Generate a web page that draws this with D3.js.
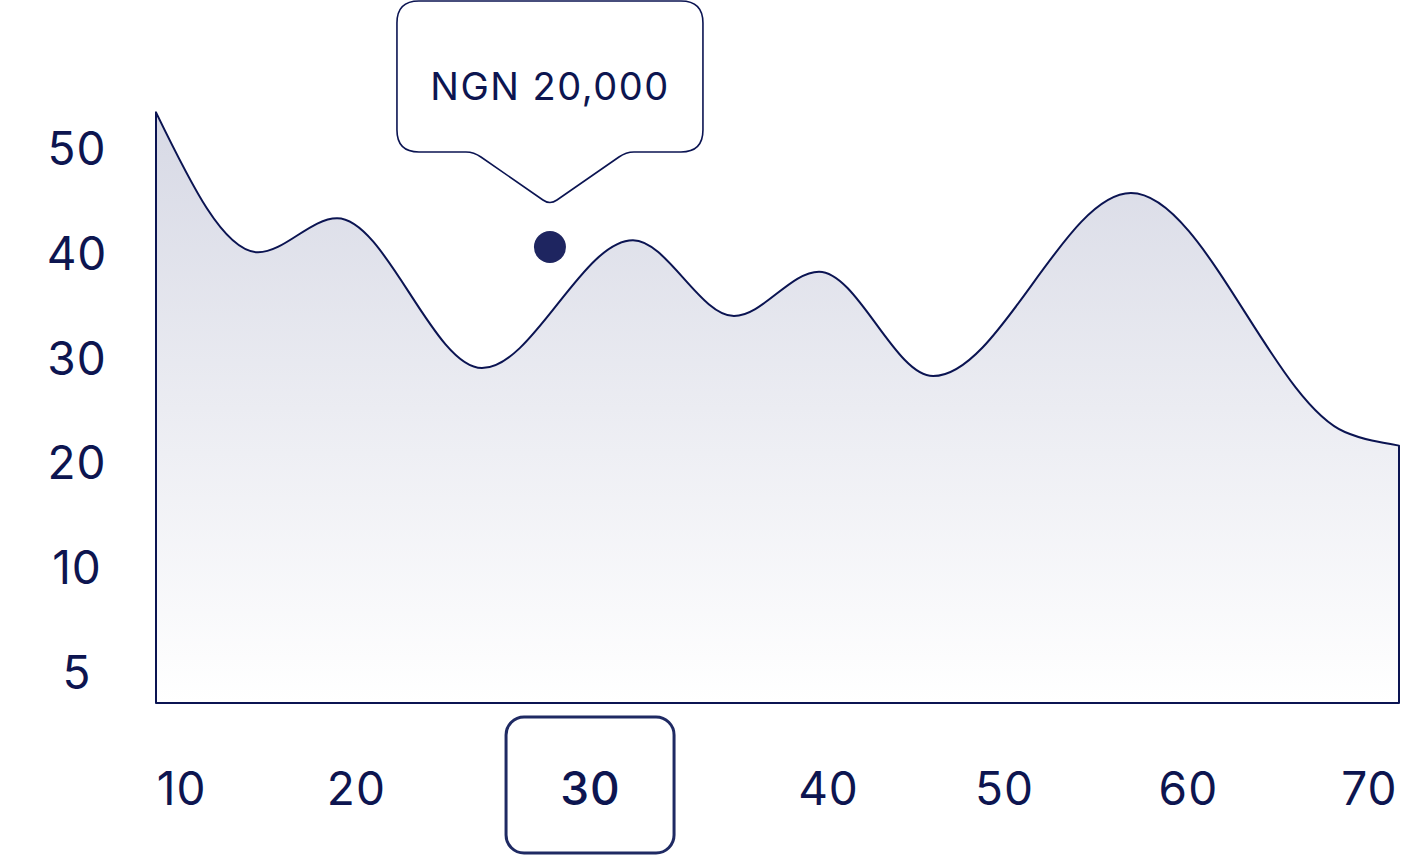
<!DOCTYPE html>
<html lang="en">

<head>
    <meta charset="UTF-8">
    <title>Area chart with tooltip</title>
    <style>
        body {
            margin: 0;
            background: #fff;
        }

        .tick text {
            font-family: "Inter", "DejaVu Sans", sans-serif;
            font-size: 46px;
            letter-spacing: 1px;
            fill: #0d1550;
        }

        .area {
            fill: url(#areaGradient);
            stroke: #0b1452;
            stroke-width: 2px;
            stroke-linejoin: round;
        }

        .tooltip-box {
            fill: #fff;
            stroke: #0b1452;
            stroke-width: 1.6px;
        }

        .tooltip-text {
            font-family: "Inter", "DejaVu Sans", sans-serif;
            font-size: 38px;
            letter-spacing: 1.5px;
            fill: #0d1550;
        }
    </style>
</head>

<body>
    <script src="https://d3js.org/d3.v7.min.js"></script>
    <script>
        // curve values
        const xValues = [10, 15.09, 19.03, 26.26, 33.79, 38.83, 43.07, 48.76, 58.63, 69.3, 72];
        const yValues = [53.4, 40.05, 43.3, 29.0, 41.2, 33.97, 38.2, 28.24, 45.7, 22.9, 21.6];

        // axis labels
        const yLabels = ["50", "40", "30", "20", "10", "5"];
        const xLabels = ["10", "20", "30", "40", "50", "60", "70"];
        const xLabelAt = [11.25, 19.97, 31.65, 43.52, 52.3, 61.47, 70.5];

        // highlighted point
        const selectedLabel = "30";
        const selectedPoint = { x: 29.65, y: 40.55 };
        const tooltipText = "NGN 20,000";

        const data = xValues.map((x, i) => ({ x: x, y: yValues[i] }));

        const margin = { top: 0, right: 2, bottom: 153, left: 156 },
            width = 1401 - margin.left - margin.right,
            height = 856 - margin.top - margin.bottom;

        const svg = d3.select("body").append("svg")
            .attr("width", 1401)
            .attr("height", 856);

        const defs = svg.append("defs");
        const grad = defs.append("linearGradient")
            .attr("id", "areaGradient")
            .attr("x1", 0).attr("y1", 0)
            .attr("x2", 0).attr("y2", 1);
        grad.append("stop").attr("offset", "0%").attr("stop-color", "#d7d9e5");
        grad.append("stop").attr("offset", "100%").attr("stop-color", "#ffffff");

        const g = svg.append("g")
            .attr("transform", "translate(" + margin.left + "," + margin.top + ")");

        const x = d3.scaleLinear().domain([10, 72]).range([0, width]);
        const y = d3.scaleLinear().domain([0, 50]).range([672, 148]);
        const yLabelScale = d3.scalePoint().domain(yLabels).range([y(50), y(0)]);

        const area = d3.area()
            .x(d => x(d.x))
            .y0(height)
            .y1(d => y(d.y))
            .curve(d3.curveMonotoneX);

        g.append("path")
            .datum(data)
            .attr("class", "area")
            .attr("d", area);

        // y axis labels
        const yAxis = g.append("g")
            .attr("transform", "translate(-79,0)")
            .call(d3.axisLeft(yLabelScale).tickSize(0).tickPadding(0));
        yAxis.select(".domain").remove();
        yAxis.selectAll("text").attr("text-anchor", "middle").attr("dy", "0.36em");

        // x axis labels
        const xAxis = g.append("g")
            .attr("transform", "translate(0," + height + ")")
            .call(d3.axisBottom(x)
                .tickValues(xLabelAt)
                .tickFormat((d, i) => xLabels[i])
                .tickSize(0)
                .tickPadding(0));
        xAxis.select(".domain").remove();
        xAxis.selectAll("text").attr("y", 85).attr("dy", "0.36em")
            .attr("font-weight", (d, i) => xLabels[i] === selectedLabel ? 500 : null);

        // box around the selected label
        const selIdx = xLabels.indexOf(selectedLabel);
        const bw = 168, bh = 136;
        xAxis.insert("rect", ":first-child")
            .attr("x", x(xLabelAt[selIdx]) - bw / 2)
            .attr("y", 14)
            .attr("width", bw)
            .attr("height", bh)
            .attr("rx", 18)
            .attr("fill", "none")
            .attr("stroke", "#1f2a63")
            .attr("stroke-width", 3);

        // selected dot
        const cx = x(selectedPoint.x);
        g.append("circle")
            .attr("cx", cx)
            .attr("cy", y(selectedPoint.y))
            .attr("r", 16)
            .attr("fill", "#1e2560");

        // tooltip bubble
        const tw = 306, bTop = 1, bBottom = 152, r = 22, tip = 205;
        const bLeft = cx - tw / 2, bRight = cx + tw / 2;
        const p = d3.path();
        p.moveTo(bLeft + r, bTop);
        p.lineTo(bRight - r, bTop);
        p.quadraticCurveTo(bRight, bTop, bRight, bTop + r);
        p.lineTo(bRight, bBottom - r);
        p.quadraticCurveTo(bRight, bBottom, bRight - r, bBottom);
        p.lineTo(cx + 84, bBottom);
        p.quadraticCurveTo(cx + 76, bBottom, cx + 69, bBottom + 5);
        p.lineTo(cx + 7, tip - 5);
        p.quadraticCurveTo(cx, tip, cx - 7, tip - 5);
        p.lineTo(cx - 69, bBottom + 5);
        p.quadraticCurveTo(cx - 76, bBottom, cx - 84, bBottom);
        p.lineTo(bLeft + r, bBottom);
        p.quadraticCurveTo(bLeft, bBottom, bLeft, bBottom - r);
        p.lineTo(bLeft, bTop + r);
        p.quadraticCurveTo(bLeft, bTop, bLeft + r, bTop);
        p.closePath();

        g.append("path")
            .attr("class", "tooltip-box")
            .attr("d", p.toString());

        g.append("text")
            .attr("class", "tooltip-text")
            .attr("x", cx)
            .attr("y", 86)
            .attr("dy", "0.36em")
            .attr("text-anchor", "middle")
            .text(tooltipText);
    </script>
</body>

</html>
